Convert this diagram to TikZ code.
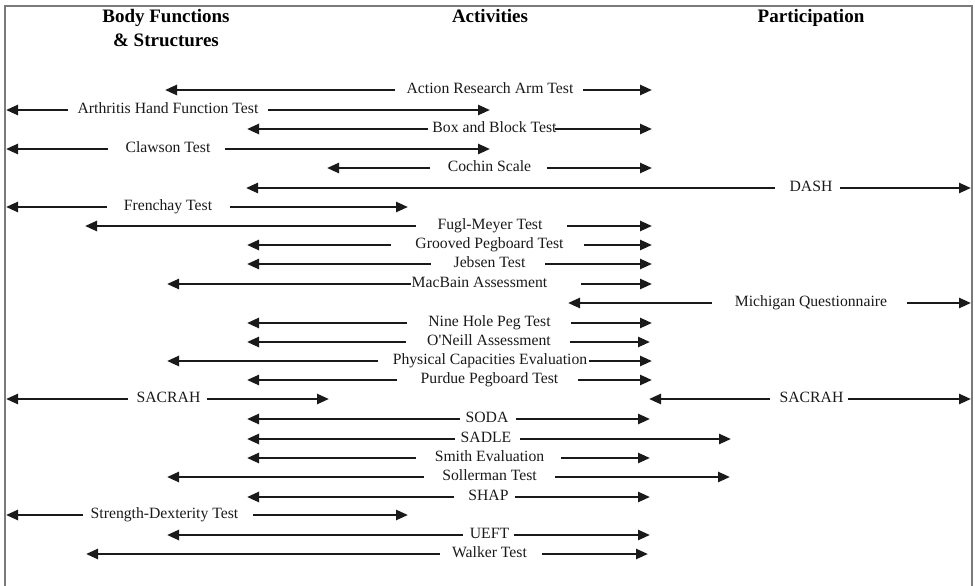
\documentclass[tikz,border=0pt]{standalone}
\usepackage{fontspec}
\setmainfont{Liberation Serif}[Ligatures=TeXOff]
\usetikzlibrary{arrows.meta}
\definecolor{ink}{HTML}{1A1A1A}
\definecolor{txt}{HTML}{1A1A1A}
\definecolor{frame}{HTML}{7A7A7A}
\tikzset{
  arr/.style={draw=ink, line width=2.5pt, -{Triangle[length=12pt,width=10pt]}},
  lbl/.style={text=txt, inner sep=0pt, text height=0.66em, text depth=0pt, anchor=center,
              font=\fontsize{15.7}{18}\selectfont},
  head/.style={text=black, inner sep=0pt, align=center, anchor=north,
              font=\fontsize{19}{24}\selectfont\bfseries},
  border/.style={draw=frame, line width=1.4pt}
}
% #1 id, #2 y, #3 left tip, #4 left line start, #5 text centre, #6 text, #7 right line start, #8 right tip
\newcommand\trow[8]{%
  \node[lbl] (t#1) at (#5,#2) {#6};
  \coordinate (la#1) at (#4,#2);
  \coordinate (lb#1) at (#3,#2);
  \coordinate (ra#1) at (#7,#2);
  \coordinate (rb#1) at (#8,#2);
  \draw[arr] (la#1) -- (lb#1);
  \draw[arr] (ra#1) -- (rb#1);
}
\begin{document}
\begin{tikzpicture}[x=1pt,y=-1pt]
\useasboundingbox (0,0) rectangle (975,586);
\coordinate (bl) at (5,586);
\coordinate (tl) at (5,6);
\coordinate (tr) at (972,6);
\coordinate (br) at (972,586);
\draw[border] (bl) -- (tl) -- (tr) -- (br);

\node[head] (hbody) at (166,9) {Body Functions\\\& Structures};
\node[head] (hact) at (490,9) {Activities};
\node[head] (hpart) at (811,9) {Participation};

\trow{1}{90}{165}{395}{490}{Action Research Arm Test}{583}{652}
\trow{2}{110}{6}{68}{168}{Arthritis Hand Function Test}{268}{490}
\trow{3}{129}{247}{428}{494.5}{Box and Block Test}{555}{652}
\trow{4}{149}{6}{108}{168}{Clawson Test}{225}{490}
\trow{5}{168}{327}{430}{489.5}{Cochin Scale}{547}{652}
\trow{6}{188}{246}{775}{811}{DASH}{840}{971}
\trow{7}{207}{6}{107}{168}{Frenchay Test}{230}{408}
\trow{8}{226}{85}{416}{490}{Fugl-Meyer Test}{567}{652}
\trow{9}{245}{247}{391}{489.5}{Grooved Pegboard Test}{584}{652}
\trow{10}{264}{247}{431}{489.5}{Jebsen Test}{545}{652}
\trow{11}{284}{167}{411}{479.5}{MacBain Assessment}{581}{652}
\trow{12}{303}{568}{712}{811}{Michigan Questionnaire}{907}{971}
\trow{13}{323}{247}{407}{489.5}{Nine Hole Peg Test}{571}{652}
\trow{14}{342}{247}{406}{489}{O'Neill Assessment}{570}{650}
\trow{15}{361}{167}{378}{490}{Physical Capacities Evaluation}{589}{652}
\trow{16}{380}{247}{397}{489.5}{Purdue Pegboard Test}{578}{652}
\trow{17}{399}{6}{128}{168.5}{SACRAH}{207}{329}
\trow{18}{399}{649}{770}{811.5}{SACRAH}{848}{971}
\trow{19}{419}{247}{460}{487}{SODA}{516}{650}
\trow{20}{439}{247}{455}{486}{SADLE}{520}{731}
\trow{21}{458}{247}{416}{489.5}{Smith Evaluation}{561}{650}
\trow{22}{477}{167}{424}{489.5}{Sollerman Test}{555}{730}
\trow{23}{497}{247}{454}{488.5}{SHAP}{515}{650}
\trow{24}{515}{6}{83}{164.5}{Strength-Dexterity Test}{253}{408}
\trow{25}{535}{167}{463}{489.5}{UEFT}{514}{650}
\trow{26}{554}{86}{440}{489.5}{Walker Test}{542}{648}
\end{tikzpicture}
\end{document}
